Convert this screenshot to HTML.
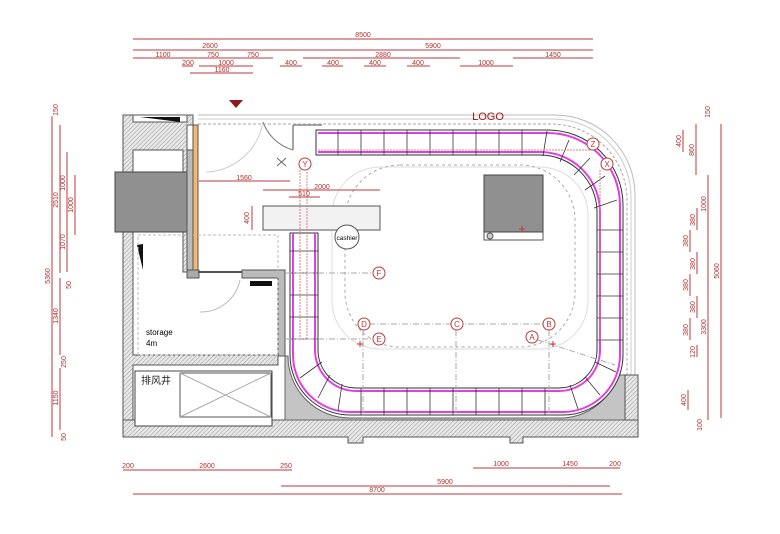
<!DOCTYPE html>
<html><head><meta charset="utf-8"><style>
html,body{margin:0;padding:0;background:#fff;width:780px;height:534px;overflow:hidden}
svg{display:block}
text{font-family:"Liberation Sans","Noto Sans CJK SC",sans-serif}
.d{stroke:#c0393b;stroke-width:1;fill:none}
.dt{fill:#b03030;font-size:7px;text-anchor:middle}
.c{fill:#fff;stroke:#c0393b;stroke-width:1}
.ct{fill:#c0393b;font-size:8px;text-anchor:middle}
</style></head><body>
<svg width="780" height="534" viewBox="0 0 780 534" xmlns="http://www.w3.org/2000/svg">
<defs>
<pattern id="h" width="3" height="3" patternUnits="userSpaceOnUse" patternTransform="rotate(45)"><rect width="3" height="3" fill="#e8e8e8"/><line x1="0" y1="0" x2="0" y2="3" stroke="#999" stroke-width="1"/></pattern>
</defs>

<!-- TOP DIMENSIONS -->
<g class="d">
<line x1="133" y1="39" x2="593" y2="39"/>
<line x1="133" y1="50" x2="593" y2="50"/>
<line x1="133" y1="58" x2="273" y2="58"/><line x1="303" y1="58" x2="460" y2="58"/><line x1="513" y1="58" x2="593" y2="58"/>
<line x1="182" y1="66" x2="193" y2="66"/><line x1="199" y1="66" x2="253" y2="66"/>
<line x1="280" y1="66" x2="302" y2="66"/><line x1="322" y1="66" x2="343" y2="66"/><line x1="364" y1="66" x2="386" y2="66"/><line x1="407" y1="66" x2="430" y2="66"/><line x1="460" y1="66" x2="513" y2="66"/>
<line x1="190" y1="73" x2="253" y2="73"/>
</g>
<g class="dt">
<text x="363" y="37">8500</text>
<text x="210" y="48">2600</text><text x="433" y="48">5900</text>
<text x="163" y="57">1100</text><text x="213" y="57">750</text><text x="253" y="57">750</text><text x="383" y="57">2880</text><text x="553" y="57">1450</text>
<text x="188" y="65">200</text><text x="226" y="65">1000</text><text x="291" y="65">400</text><text x="333" y="65">400</text><text x="375" y="65">400</text><text x="418" y="65">400</text><text x="486" y="65">1000</text>
<text x="222" y="72">1160</text>
</g>

<!-- BOTTOM DIMENSIONS -->
<g class="d">
<line x1="123" y1="470" x2="281" y2="470"/><line x1="281" y1="470" x2="292" y2="470"/>
<line x1="473" y1="468" x2="620" y2="468"/>
<line x1="281" y1="486" x2="610" y2="486"/>
<line x1="133" y1="494" x2="622" y2="494"/>
</g>
<g class="dt">
<text x="128" y="468">200</text><text x="207" y="468">2600</text><text x="286" y="468">250</text>
<text x="501" y="466">1000</text><text x="570" y="466">1450</text><text x="615" y="466">200</text>
<text x="445" y="484">5900</text><text x="377" y="492">8700</text>
</g>

<!-- LEFT DIMENSIONS -->
<g class="d">
<line x1="52" y1="116" x2="52" y2="437"/>
<line x1="60" y1="125" x2="60" y2="273"/><line x1="60" y1="278" x2="60" y2="355"/><line x1="60" y1="368" x2="60" y2="430"/>
<line x1="67" y1="152" x2="67" y2="272"/><line x1="75" y1="175" x2="75" y2="235"/>
</g>
<g class="dt">
<text transform="translate(50,276) rotate(-90)">5360</text>
<text transform="translate(58,110) rotate(-90)">150</text>
<text transform="translate(58,200) rotate(-90)">2510</text>
<text transform="translate(65,183) rotate(-90)">1000</text>
<text transform="translate(65,242) rotate(-90)">1070</text>
<text transform="translate(73,205) rotate(-90)">1000</text>
<text transform="translate(71,285) rotate(-90)">50</text>
<text transform="translate(58,316) rotate(-90)">1340</text>
<text transform="translate(66,362) rotate(-90)">250</text>
<text transform="translate(58,398) rotate(-90)">1150</text>
<text transform="translate(66,437) rotate(-90)">50</text>
</g>

<!-- RIGHT DIMENSIONS -->
<g class="d">
<line x1="721" y1="124" x2="721" y2="418"/>
<line x1="708" y1="233" x2="708" y2="420"/><line x1="708" y1="175" x2="708" y2="233"/>
<line x1="696" y1="124" x2="696" y2="175"/><line x1="683" y1="130" x2="683" y2="152"/>
<line x1="697" y1="208" x2="697" y2="230"/><line x1="690" y1="230" x2="690" y2="252"/><line x1="697" y1="252" x2="697" y2="274"/><line x1="690" y1="274" x2="690" y2="296"/><line x1="697" y1="296" x2="697" y2="318"/><line x1="690" y1="318" x2="690" y2="340"/>
<line x1="697" y1="345" x2="697" y2="357"/><line x1="688" y1="390" x2="688" y2="410"/>
</g>
<g class="dt">
<text transform="translate(710,112) rotate(-90)">150</text>
<text transform="translate(719,271) rotate(-90)">5060</text>
<text transform="translate(694,150) rotate(-90)">860</text>
<text transform="translate(681,141) rotate(-90)">400</text>
<text transform="translate(706,204) rotate(-90)">1000</text>
<text transform="translate(706,327) rotate(-90)">3300</text>
<text transform="translate(695,220) rotate(-90)">380</text><text transform="translate(688,241) rotate(-90)">380</text><text transform="translate(695,264) rotate(-90)">380</text><text transform="translate(688,285) rotate(-90)">380</text><text transform="translate(695,307) rotate(-90)">380</text><text transform="translate(688,330) rotate(-90)">380</text>
<text transform="translate(695,352) rotate(-90)">120</text>
<text transform="translate(686,400) rotate(-90)">400</text>
<text transform="translate(702,425) rotate(-90)">100</text>
</g>

<!-- BUILDING WALLS -->
<path d="M123,115 H193 V125 H187 V272 H183 V150 H133 V355 H278 V365 H133 V425 H286 V437 H123 Z" fill="url(#h)" stroke="#555" stroke-width="1"/>
<rect x="133" y="115" width="54" height="7" fill="#fff" stroke="#555"/>
<path d="M140,117 L180,122 L180,117 Z" fill="#111"/>
<path d="M123,420 H638 V437 H523 V443 H510 V437 H363 V443 H348 V437 H123 Z" fill="url(#h)" stroke="#555"/>
<rect x="115" y="172" width="72" height="60" fill="#909090" stroke="#444"/>
<rect x="187" y="150" width="6" height="122" fill="#bbb" stroke="#555"/>
<rect x="193" y="125" width="5" height="145" fill="#f4b870" stroke="#555"/>
<rect x="187" y="270" width="12" height="8" fill="#aaa" stroke="#555"/>
<line x1="198" y1="272" x2="242" y2="272" stroke="#555" stroke-width="2"/>
<path d="M242,270 H285 V356 H278 V278 H242 Z" fill="#bbb" stroke="#555"/>
<rect x="250" y="281" width="22" height="5" fill="#111"/>
<path d="M137,245 L143,244 L143,270 Z" fill="#111"/>
<rect x="138" y="235" width="140" height="120" fill="none" stroke="#bbb" stroke-dasharray="3,2"/>
<text x="146" y="335" font-size="8">storage</text><text x="146" y="346" font-size="8">4m</text>
<!-- shaft -->
<rect x="135" y="371" width="137" height="55" fill="#fff" stroke="#444"/>
<rect x="180" y="373" width="91" height="44" fill="none" stroke="#555"/>
<line x1="180" y1="373" x2="271" y2="417" stroke="#aaa"/><line x1="271" y1="373" x2="180" y2="417" stroke="#aaa"/>
<text x="141" y="384" font-size="10" fill="#222">排风井</text>
<!-- doors -->
<path d="M206,172 A60,60 0 0 0 263,122" fill="none" stroke="#ccc"/>
<path d="M263,122 A45,45 0 0 0 293,150" fill="none" stroke="#777"/>
<path d="M293,125 H322 M293,125 V150" stroke="#888" fill="none" stroke-width="1.5"/>
<path d="M200,312 A40,40 0 0 0 240,280" fill="none" stroke="#bbb"/>
<line x1="277" y1="158" x2="286" y2="166" stroke="#666"/><line x1="286" y1="158" x2="277" y2="166" stroke="#666"/>
<polygon points="229,100 243,100 236,108" fill="#8b1a1a"/>
<!-- top storefront line -->
<path d="M198,115 H555 A80,80 0 0 1 635,195 V375" fill="none" stroke="#bbb" stroke-width="1"/>
<path d="M198,119 H553 A78,78 0 0 1 631,197 V375" fill="none" stroke="#ccc" stroke-width="1"/>
<path d="M198,124 H551 A76,76 0 0 1 627,200 V375" fill="none" stroke="#aaa" stroke-dasharray="3,2"/>
<text x="488" y="120" font-size="11" fill="#a01818" text-anchor="middle">LOGO</text>
<!-- bottom grey area -->
<path d="M285,356 V420 H625 V375 L620,375 V360 A60,60 0 0 1 563,418 H350 A62,62 0 0 1 288,356 Z" fill="#c4c4c4" stroke="#666"/>
<rect x="625" y="375" width="13" height="45" fill="url(#h)" stroke="#555"/>
<!-- interior dashed -->
<rect x="332" y="167" width="256" height="182" rx="48" fill="none" stroke="#ddd"/>
<rect x="345" y="165" width="230" height="182" rx="55" fill="none" stroke="#aaa" stroke-dasharray="3,3"/>
<!-- counter -->
<path d="M316,130 H548 A75,75 0 0 1 623,205 V355 A60,60 0 0 1 563,415 H350 A60,60 0 0 1 290,355 V233 H318 V350 A38,38 0 0 0 356,388 H559 A38,38 0 0 0 597,350 V212 A57,57 0 0 0 540,155 H316 Z" fill="#fff" stroke="#333"/>
<path d="M318,133 H548 A72,72 0 0 1 620,205 V355 A57,57 0 0 1 563,412 H350 A57,57 0 0 1 293,355 V233" fill="none" stroke="#e040e0" stroke-width="2"/>
<path d="M318,152 H540 A60,60 0 0 1 600,212 V350 A41,41 0 0 1 559,391 H356 A41,41 0 0 1 315,350 V233" fill="none" stroke="#e040e0" stroke-width="2"/>
<g stroke="#333" stroke-width="0.8">
<line x1="338" y1="130" x2="338" y2="155"/><line x1="361" y1="130" x2="361" y2="155"/><line x1="384" y1="130" x2="384" y2="155"/><line x1="407" y1="130" x2="407" y2="155"/><line x1="430" y1="130" x2="430" y2="155"/><line x1="453" y1="130" x2="453" y2="155"/><line x1="476" y1="130" x2="476" y2="155"/><line x1="499" y1="130" x2="499" y2="155"/><line x1="522" y1="130" x2="522" y2="155"/>
<line x1="547" y1="131" x2="543" y2="156"/><line x1="569" y1="140" x2="560" y2="162"/><line x1="590" y1="158" x2="574" y2="175"/><line x1="605" y1="176" x2="585" y2="190"/><line x1="617" y1="200" x2="594" y2="208"/>
<line x1="597" y1="230" x2="623" y2="230"/><line x1="597" y1="252" x2="623" y2="252"/><line x1="597" y1="274" x2="623" y2="274"/><line x1="597" y1="296" x2="623" y2="296"/><line x1="597" y1="318" x2="623" y2="318"/><line x1="597" y1="340" x2="623" y2="340"/>
<line x1="595" y1="362" x2="616" y2="372"/><line x1="585" y1="377" x2="600" y2="395"/><line x1="570" y1="385" x2="578" y2="409"/>
<line x1="545" y1="388" x2="545" y2="415"/><line x1="522" y1="388" x2="522" y2="415"/><line x1="499" y1="388" x2="499" y2="415"/><line x1="476" y1="388" x2="476" y2="415"/><line x1="453" y1="388" x2="453" y2="415"/><line x1="430" y1="388" x2="430" y2="415"/><line x1="407" y1="388" x2="407" y2="415"/><line x1="384" y1="388" x2="384" y2="415"/><line x1="361" y1="388" x2="361" y2="415"/>
<line x1="342" y1="384" x2="338" y2="411"/><line x1="330" y1="375" x2="318" y2="398"/><line x1="322" y1="362" x2="300" y2="378"/>
<line x1="290" y1="251" x2="318" y2="251"/><line x1="290" y1="273" x2="318" y2="273"/><line x1="290" y1="295" x2="318" y2="295"/><line x1="290" y1="317" x2="318" y2="317"/><line x1="290" y1="339" x2="318" y2="339"/>
</g>
<!-- cashier -->
<rect x="263" y="206" width="117" height="24" fill="#f2f2f2" stroke="#555"/>
<circle cx="347" cy="237" r="12" fill="#fff" stroke="#555"/>
<text x="347" y="240" font-size="6.5" text-anchor="middle">cashier</text>
<!-- display -->
<rect x="484" y="175" width="59" height="65" fill="#fff" stroke="#555"/>
<rect x="484" y="175" width="59" height="57" fill="#909090" stroke="#444"/>
<circle cx="490" cy="236" r="3" fill="#ccc" stroke="#555"/>
<!-- grid lines -->
<g stroke="#aaa" stroke-dasharray="6,2,1,2" fill="none">
<line x1="285" y1="273" x2="372" y2="273"/><line x1="285" y1="339" x2="372" y2="339"/>
<line x1="369" y1="324" x2="543" y2="324"/><line x1="363" y1="330" x2="363" y2="420"/><line x1="456" y1="330" x2="456" y2="420"/><line x1="549" y1="330" x2="549" y2="420"/>
<line x1="538" y1="340" x2="615" y2="365"/>
</g>
<g stroke="#e08080" stroke-dasharray="2,1" fill="none">
<line x1="307" y1="172" x2="307" y2="340"/><line x1="300" y1="170" x2="300" y2="340"/>
<line x1="318" y1="150" x2="590" y2="150"/><line x1="600" y1="170" x2="600" y2="340"/>
</g>
<!-- interior dims -->
<g class="d">
<line x1="199" y1="181" x2="290" y2="181"/><line x1="263" y1="190" x2="380" y2="190"/><line x1="289" y1="197" x2="320" y2="197"/><line x1="252" y1="206" x2="252" y2="230"/>
</g>
<g class="dt"><text x="244" y="180">1560</text><text x="322" y="189">2000</text><text x="304" y="196">510</text><text transform="translate(249,218) rotate(-90)">400</text></g>
<!-- circle labels -->
<g>
<circle class="c" cx="305" cy="164" r="6"/><text class="ct" x="305" y="167">Y</text>
<circle class="c" cx="593" cy="144" r="6"/><text class="ct" x="593" y="147">Z</text>
<circle class="c" cx="607" cy="164" r="6"/><text class="ct" x="607" y="167">X</text>
<circle class="c" cx="379" cy="273" r="6"/><text class="ct" x="379" y="276">F</text>
<circle class="c" cx="364" cy="324" r="6"/><text class="ct" x="364" y="327">D</text>
<circle class="c" cx="457" cy="324" r="6"/><text class="ct" x="457" y="327">C</text>
<circle class="c" cx="549" cy="324" r="6"/><text class="ct" x="549" y="327">B</text>
<circle class="c" cx="379" cy="339" r="6"/><text class="ct" x="379" y="342">E</text>
<circle class="c" cx="532" cy="337" r="6"/><text class="ct" x="532" y="340">A</text>
</g>
<g stroke="#c0393b"><line x1="357" y1="344" x2="363" y2="344"/><line x1="360" y1="341" x2="360" y2="347"/><line x1="550" y1="344" x2="556" y2="344"/><line x1="553" y1="341" x2="553" y2="347"/><line x1="519" y1="229" x2="525" y2="229"/><line x1="522" y1="226" x2="522" y2="232"/></g>
</svg>
</body></html>
